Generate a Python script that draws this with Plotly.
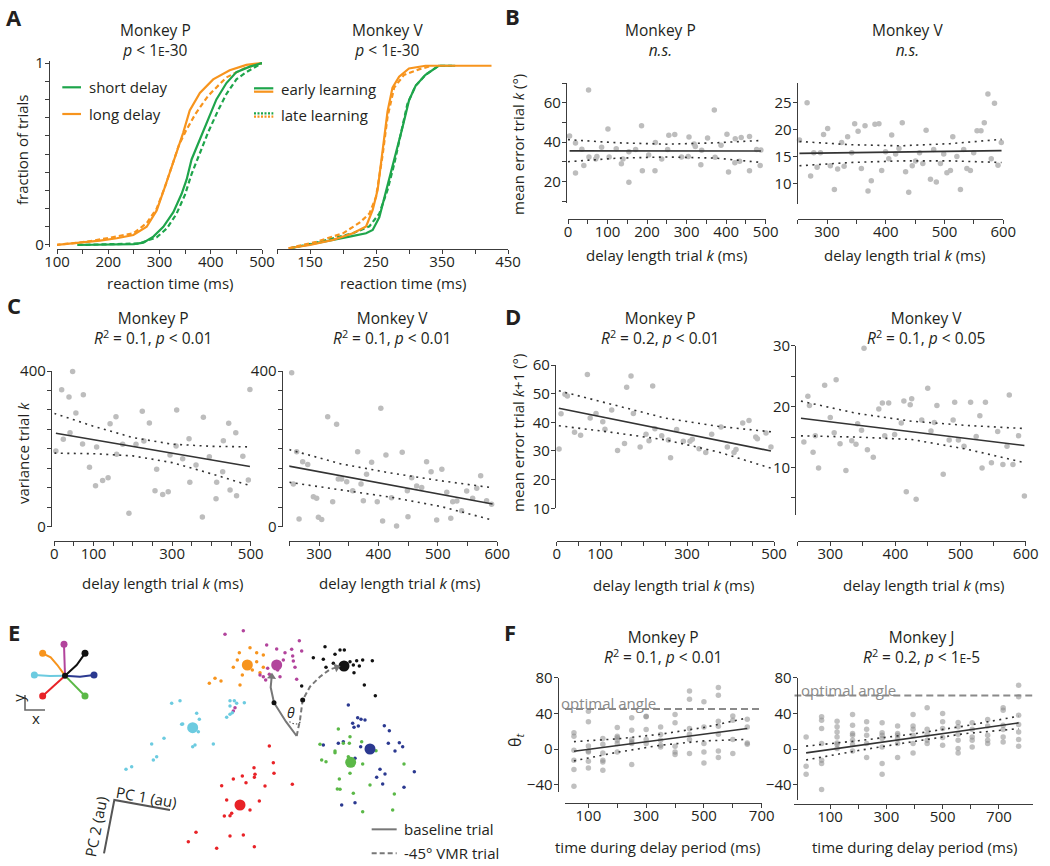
import plotly.graph_objects as go

W, H = 1050, 866
FONT = "Open Sans"
TXT = "#231f20"
AX = "#3c3c3c"
GREEN = "#1ea54b"
ORANGE = "#f7941d"
PT = "#bdbdbd"
FPT = "rgba(140,140,140,0.55)"
FIT = "#333333"

# ---------------- Panel A: cumulative RT distributions ----------------
a_p_short_early_rt = [140, 250, 268.6, 288, 307.5, 327, 343, 353, 362.6, 378.8, 395, 411, 430.6, 450, 476, 500]
a_p_short_early_f = [0, 0.005, 0.013, 0.046, 0.1, 0.18, 0.28, 0.36, 0.47, 0.58, 0.69, 0.80, 0.89, 0.95, 0.98, 1.0]
a_p_short_late_rt = [140, 260, 294.5, 314, 333, 349.6, 362.6, 378.8, 395, 414.4, 430.6, 450, 469.5, 500]
a_p_short_late_f = [0, 0.008, 0.042, 0.09, 0.17, 0.275, 0.39, 0.51, 0.62, 0.74, 0.83, 0.91, 0.95, 1.0]
a_p_long_early_rt = [97, 139, 184, 216.7, 249, 275, 294.5, 310.7, 323.7, 336.6, 346, 359, 378.8, 404.7, 437, 469.5, 500]
a_p_long_early_f = [0, 0.01, 0.024, 0.037, 0.055, 0.1, 0.19, 0.32, 0.43, 0.54, 0.615, 0.74, 0.835, 0.91, 0.96, 0.99, 1.0]
a_p_long_late_rt = [97, 158, 197, 249, 275, 294.5, 310.7, 327, 338, 352, 370, 395, 430, 465, 500]
a_p_long_late_f = [0, 0.018, 0.037, 0.064, 0.12, 0.2, 0.32, 0.45, 0.55, 0.63, 0.72, 0.82, 0.92, 0.97, 1.0]

a_v_short_early_rt = [120, 160, 210, 235, 245, 255, 267.5, 277.5, 290, 300, 310, 325, 345, 370]
a_v_short_early_f = [0, 0.027, 0.064, 0.082, 0.1, 0.17, 0.34, 0.48, 0.66, 0.81, 0.89, 0.95, 1.0, 1.0]
a_v_short_late_rt = [120, 165, 215, 240, 255, 267.5, 277.5, 287.5, 297.5, 310, 325, 345, 365]
a_v_short_late_f = [0, 0.036, 0.082, 0.12, 0.19, 0.32, 0.46, 0.63, 0.79, 0.89, 0.95, 1.0, 1.0]
a_v_long_early_rt = [117.5, 150, 185, 215, 235, 245, 252.5, 260, 267.5, 275, 285, 300, 325, 425]
a_v_long_early_f = [0, 0.018, 0.046, 0.082, 0.12, 0.21, 0.32, 0.52, 0.75, 0.88, 0.94, 0.985, 1.0, 1.0]
a_v_long_late_rt = [117.5, 160, 200, 225, 240, 250, 260, 267.5, 277.5, 292.5, 315, 335]
a_v_long_late_f = [0, 0.036, 0.082, 0.14, 0.19, 0.28, 0.51, 0.72, 0.88, 0.95, 0.98, 1.0]

# ---------------- Panel B: mean error trial k vs delay ----------------
b_p_pts = [(4, 43), (19, 24.2), (19, 39.5), (35, 36.3), (40, 28), (52, 66.4), (53, 32.4), (70, 31.4),
           (73, 32.7), (85, 37.3), (101, 46.6), (104, 32.4), (122, 36.6), (135, 29), (139, 31.4),
           (154, 19.5), (154, 35), (171, 36.2), (186, 48.3), (188, 25.4), (204, 33.4), (220, 25.4),
           (221, 39.7), (237, 31.4), (252, 36.2), (255, 43.5), (270, 43.8), (287, 32.4), (304, 32.6),
           (306, 42.6), (319, 39), (322, 37.7), (336, 28.5), (338, 35.8), (353, 42), (370, 56.3),
           (372, 32.2), (387, 38.3), (402, 44), (406, 24.7), (422, 29.4), (423, 41.6), (434, 30.2),
           (438, 42.3), (459, 42.8), (459, 25.4), (477, 36.2), (486, 28), (488, 35.9)]
b_p_fit_x = [4, 488]
b_p_fit_y = [35.5, 35.4]
b_p_ci_x = [0, 125, 250, 375, 490]
b_p_ci_hi = [41.2, 39.6, 38.9, 39.6, 40.8]
b_p_ci_lo = [30.0, 31.8, 32.4, 31.8, 29.6]

b_v_pts = [(253, 18.1), (266, 25), (272, 11.4), (277.4, 15.7), (283, 13), (288.7, 15.7), (294, 19.1),
           (301, 20.2), (305.6, 13.3), (312.4, 8.9), (318, 12.7), (324.8, 17.6), (329, 13.2), (335, 18.7),
           (342, 15.7), (347, 21.1), (352.8, 19.7), (358.4, 12.8), (364.6, 20.7), (369.7, 8.6),
           (375.3, 10.5), (381.5, 21), (388.3, 21.1), (393, 12.4), (399.6, 15.9), (405, 14.6),
           (410, 19), (416.7, 15.5), (422.4, 16.5), (428, 21.3), (433.7, 12.2), (439, 8.4),
           (445, 13.3), (450.6, 14.2), (457.4, 15.7), (463, 13.7), (468.6, 19.9), (476, 10.8),
           (481.5, 16.3), (486, 10.3), (493, 13.7), (498.6, 15.5), (504, 12), (510, 12.4),
           (514, 18.7), (521, 15), (527, 8.9), (532.6, 16.3), (538, 12.8), (544, 12.4), (549.6, 15.7),
           (555.3, 19.8), (562, 19.8), (567.6, 21.3), (573.8, 26.6), (579.5, 14.6), (585, 24.9),
           (591, 13.4), (596.6, 17.6)]
b_v_fit_x = [253, 597]
b_v_fit_y = [15.6, 16.1]
b_v_ci_x = [253, 340, 425, 510, 597]
b_v_ci_hi = [17.8, 17.2, 17.0, 17.4, 18.2]
b_v_ci_lo = [13.3, 13.9, 14.2, 14.2, 13.9]

# ---------------- Panel C: variance trial k vs delay ----------------
c_p_pts = [(4, 194.4), (18.7, 352), (22.9, 224.4), (37.4, 333.3), (40, 241.5), (46.7, 399), (55, 292),
           (72, 212.4), (73.9, 339), (89.6, 152.5), (107.8, 204.5), (105, 105), (123, 118.6), (137, 126),
           (142, 264.7), (157, 282.6), (158.7, 185.9), (174, 211.6), (190, 34.3), (208, 211.6),
           (224, 296.4), (228, 220), (242, 266.6), (260.6, 147.4), (256.4, 92.5), (276, 83), (290, 90),
           (294.6, 184), (311.6, 299.7), (310, 207.3), (326.8, 174.8), (343, 226), (345, 114),
           (360.8, 158.5), (376.9, 24.8), (379.5, 281), (394.7, 180), (411.7, 72), (413.4, 114),
           (428.7, 141.3), (430.4, 221), (444, 265.5), (447.5, 94.2), (462, 241.5), (464, 79.7),
           (480, 181), (494, 120), (498, 352.6)]
c_p_fit_x = [4, 498]
c_p_fit_y = [239.9, 154.6]
c_p_ci_x = [0, 100, 200, 300, 400, 500]
c_p_ci_hi = [291, 258, 229, 212, 206.5, 205]
c_p_ci_lo = [189, 187.5, 182, 164.6, 136, 105]

c_v_pts = [(248.4, 156.7), (254, 395.7), (256.8, 109.6), (262.4, 192.7), (266.4, 19.7), (272.5, 167),
           (281, 160), (290.5, 77), (296, 72.8), (299, 24), (304.5, 18.8), (314.6, 282.6), (323, 64.3),
           (329.6, 263), (332.4, 122.5), (338, 122.5), (346.6, 115.6), (356.7, 92.5), (365, 192.7),
           (370.7, 109.6), (374.6, 66.8), (380, 134.5), (388.5, 165.3), (398, 64.3), (404, 304),
           (407, 14.6), (412.6, 184), (422, 74.5), (430.5, 1.7), (440, 191), (448.6, 92.5),
           (449.7, 25.7), (456, 126), (464.3, 104.5), (472.8, 101), (481, 167), (479.4, -25.7),
           (488.6, 141.3), (498, 17), (506.7, 147.3), (515, 88.4), (521.7, 21.4), (525, 64.3),
           (532, 66), (540, 41), (548.5, 91.6), (554.2, -14.6), (558.5, 72.8), (565.4, 98.5),
           (572, 131), (582, 66.8), (590.4, 57.4)]
c_v_fit_x = [248, 592]
c_v_fit_y = [156, 58.2]
c_v_ci_x = [250, 335, 420, 505, 592]
c_v_ci_hi = [198, 162, 138, 118, 100]
c_v_ci_lo = [114, 95, 76, 52, 17]

# ---------------- Panel D: mean error trial k+1 vs delay ----------------
d_p_pts = [(5.4, 30.7), (10, 43), (19, 49.8), (24.5, 49.2), (41, 36.5), (55, 35.5), (70.6, 56.7),
           (77, 41.5), (90.5, 43.1), (106, 40.2), (111, 37.6), (126.5, 44.3), (140, 30.2), (156, 32.6),
           (161, 52.2), (171, 56.2), (176.4, 43.1), (192, 31.4), (205.5, 35.8), (212.4, 33.6),
           (220.9, 52.7), (226, 37.8), (241.6, 35.3), (257, 33.8), (262, 27.6), (276, 37.5),
           (291.4, 33.4), (306.7, 33.4), (312, 34.1), (327.6, 30.8), (343, 29.5), (356.6, 35.8),
           (378, 38.4), (392.6, 31.4), (408, 29.5), (412.6, 30.5), (428, 39.8), (442.5, 40.6),
           (458, 34.9), (461.8, 34.3), (481.6, 36.3), (493, 31.4)]
d_p_fit_x = [5, 493]
d_p_fit_y = [44.9, 30.0]
d_p_ci_x = [5, 127, 249, 371, 493]
d_p_ci_hi = [51.0, 46.3, 41.5, 38.6, 36.7]
d_p_ci_lo = [38.8, 36.5, 33.9, 29.7, 24.0]

d_v_pts = [(259.5, 14.2), (265.6, 21.7), (268, 20.2), (273.6, 12.5), (277, 15.2), (282, 9.9),
           (291.4, 23.5), (300, 18.2), (306, 15.7), (309, 24.4), (315, 13.9), (324, 9.5), (333, 14.4),
           (339.5, 13.8), (342, 17.2), (348, 16.1), (351.8, 29.6), (357, 12.9), (366, 11.7),
           (374.5, 19.6), (380, 20.6), (383.6, 15.2), (389.7, 20.6), (398.8, 15.4), (409, 17.3),
           (413, 20.9), (416.7, 6), (422.7, 20.3), (425, 21.3), (431.8, 4.8), (440.4, 17.8),
           (449.6, 23), (454.6, 16), (459.7, 17.4), (463.7, 20.2), (473.4, 8.9), (482.5, 14.5),
           (488.6, 17.8), (491, 20.7), (496.7, 14.5), (505.3, 13.5), (515.4, 20.7), (524, 15.1),
           (529.6, 18.5), (533, 9.9), (538.2, 20.7), (547.4, 10.8), (557, 15.9), (562, 0.1),
           (565, 10.5), (571.3, 13.5), (574.8, 21.9), (580.4, 10.5), (589, 15.2), (598, 5.3)]
d_v_fit_x = [255, 598]
d_v_fit_y = [18.1, 13.6]
d_v_ci_x = [255, 340, 425, 510, 598]
d_v_ci_hi = [20.9, 18.9, 17.6, 16.9, 16.4]
d_v_ci_lo = [15.2, 15.0, 14.6, 13.0, 10.8]

# ---------------- Panel F: theta_t vs time ----------------
f_p_times = [50, 100, 150, 200, 250, 300, 350, 400, 450, 500, 550, 600, 650]
f_p_vals = [[18.3, 14.6, -1.1, -12.3, -22.8, -41.4],
            [42.5, 30.6, 3.7, -1.9, -3, -13.4, -20.9],
            [12, 5.6, -4.1, -12.3, -14.2, -23.5],
            [24.3, 14.6, 12.7, 10, 6.3, -3],
            [35.1, 21.3, 10.8, 8.2, 6.3, -17.2],
            [37, 36.3, 22.1, 10.8, 6.3],
            [25, 16.4, 10, 4.5, 2.6],
            [38.8, 29.5, 3.4, -3, -6],
            [65, 56, 23.1, 16.8, 10.8, -4.9],
            [81, 53, 25, 6.3, -3, -15.3],
            [69, 60.4, 31.3, 25.7, 16.8, -1.9, -9.3],
            [37.3, 32.4, 10.8, -4.9],
            [33.6, 25, 7.1, 5.6]]
f_p_fit_x = [50, 650]
f_p_fit_y = [-2.2, 23.1]
f_p_ci_x = [50, 200, 350, 500, 650]
f_p_ci_hi = [8.5, 11.6, 16.8, 24.3, 35]
f_p_ci_lo = [-13, -3.4, 4.5, 9.3, 11]
f_p_optimal = 45

f_j_times = [15, 70, 125, 180, 230, 285, 340, 395, 445, 500, 555, 605, 660, 715, 770]
f_j_vals = [[13.8, -19, -28, -57],
            [36.2, 32.5, 23.1, 6.3, -12.3, -16, -45],
            [31.3, 25, 19.4, 13.8, 7, 5.2, 0.7],
            [38.8, 26.9, 17.5, 15.7, 10, 5.2, -1.9],
            [30.6, 22.4, 15.7, 6.3, -9.3],
            [29.5, 18.3, 15.7, 12, 2.6, -16, -28],
            [26.1, 17.5, 15.7, 12, 6.3, -9.3],
            [38.8, 26.1, 22.4, 15.7, 6.3, -4.1],
            [46.3, 22.4, 16.4, 10, 6.3],
            [40, 30.6, 23.1, 13, 4.5],
            [29.9, 25, 16.8, 10, 0.7, -4.1],
            [29.5, 22.4, 13.8, 10, 2.6],
            [33.2, 26.1, 15.7, 10, 6.3],
            [46.3, 43.7, 26.9, 22, 13.8, 8.2],
            [71.6, 58.6, 38.1, 27.6, 19.4, 10.8, 3.4]]
f_j_fit_x = [15, 770]
f_j_fit_y = [-4.1, 29.5]
f_j_ci_x = [15, 200, 395, 580, 770]
f_j_ci_hi = [3.5, 9.5, 17, 26, 37]
f_j_ci_lo = [-12, -1.5, 8.5, 17.5, 23]
f_j_optimal = 60

# ---------------- Panel E: PC-space schematic (arbitrary units) ----------------
e_clusters = {
    "#f7941d": {"center": (742, 255),
                "pts": [(718, 218), (750, 203), (770, 218), (790, 225), (700, 262), (712, 240), (770, 245),
                        (790, 262), (727, 285), (780, 278), (645, 295), (663, 303), (628, 310), (720, 315),
                        (757, 270)]},
    "#b2449c": {"center": (830, 255),
                "pts": [(675, 163), (730, 152), (800, 195), (830, 207), (855, 218), (875, 208), (898, 182),
                        (905, 213), (878, 228), (880, 243), (885, 262), (890, 298), (808, 283), (797, 300),
                        (840, 290), (790, 290), (803, 265), (705, 383), (700, 393), (780, 285), (833, 270),
                        (850, 240)]},
    "#111111": {"center": (1032, 258),
                "pts": [(975, 200), (1005, 223), (1020, 210), (1033, 210), (940, 233), (970, 238), (1070, 242),
                        (1088, 240), (1117, 242), (1060, 255), (1078, 258), (1062, 278), (1093, 315),
                        (1126, 347), (905, 318), (978, 262), (1000, 250), (1050, 245)]},
    "#6ccbe0": {"center": (578, 443),
                "pts": [(515, 370), (540, 362), (690, 362), (703, 362), (733, 368), (690, 378), (697, 398),
                        (680, 412), (690, 403), (598, 418), (590, 400), (545, 433), (548, 432), (595, 455),
                        (585, 495), (578, 500), (640, 492), (492, 475), (455, 492), (470, 530), (460, 540),
                        (395, 560), (378, 568), (710, 370)]},
    "#2b3990": {"center": (1110, 507),
                "pts": [(1045, 375), (1073, 413), (1083, 418), (1095, 420), (1058, 430), (1062, 442),
                        (1075, 438), (1153, 437), (1168, 452), (1198, 488), (1208, 500), (1165, 490),
                        (1185, 513), (1015, 490), (1030, 485), (970, 495), (1065, 535), (1140, 568),
                        (1155, 582), (1130, 592), (1148, 612), (1243, 575), (1212, 622), (1025, 675),
                        (1065, 668), (1082, 500)]},
    "#5bb847": {"center": (1052, 547),
                "pts": [(1015, 447), (1050, 470), (1048, 490), (1085, 485), (1030, 490), (1005, 513),
                        (1005, 518), (960, 493), (965, 540), (978, 545), (1045, 530), (1088, 552),
                        (1050, 580), (1018, 597), (1012, 627), (1020, 628), (1060, 640), (1110, 615),
                        (1212, 552), (1183, 642), (1088, 695), (1178, 690), (1128, 512)]},
    "#e82227": {"center": (720, 675),
                "pts": [(808, 498), (762, 563), (820, 548), (727, 588), (765, 583), (763, 592), (822, 580),
                        (700, 597), (665, 617), (738, 608), (795, 618), (877, 613), (680, 660), (778, 663),
                        (750, 690), (695, 700), (690, 707), (673, 708), (588, 757), (565, 785), (690, 768),
                        (730, 765), (650, 805), (763, 800)]},
}
e_star = {  # reach trajectories inset
    "#b2449c": [(195, 287), (193, 240), (192, 193)],
    "#111111": [(195, 287), (230, 255), (255, 220)],
    "#f7941d": [(195, 287), (172, 255), (152, 232), (128, 220)],
    "#6ccbe0": [(195, 287), (150, 288), (103, 285)],
    "#2b3990": [(195, 287), (240, 290), (282, 285)],
    "#e82227": [(195, 287), (128, 348)],
    "#5bb847": [(195, 287), (255, 348)],
}
e_baseline = [(890, 468), (858, 425), (822, 368), (812, 322), (815, 290)]
e_vmr = [(890, 468), (900, 420), (908, 360), (930, 320), (960, 290), (990, 268), (1010, 262)]
e_pc_axes = [(312, 820), (343, 660), (510, 690)]
e_xy_axes = [(75, 345), (75, 390), (135, 390)]

fig = go.Figure()
layout = dict(template="none", width=W, height=H, margin=dict(l=0, r=0, t=0, b=0, pad=0, autoexpand=False),
              paper_bgcolor="white", plot_bgcolor="rgba(0,0,0,0)", showlegend=False,
              font=dict(family=FONT, size=15, color=TXT))


def axes(n, xr, xpx, yr, ypx, yline_x, xline_y, xt, yt, show_y=True):
    base = dict(showline=True, linecolor=AX, linewidth=1.3, ticks="outside", ticklen=4, tickwidth=1.3,
                tickcolor=AX, showgrid=False, zeroline=False, tickfont=dict(size=15, color=TXT),
                anchor="free", automargin=False)
    xa = dict(base, domain=[xpx[0] / W, xpx[1] / W], range=xr, position=1 - xline_y / H,
              ticklabelstandoff=-5)
    xa.update(xt)
    ya = dict(base, domain=[1 - ypx[0] / H, 1 - ypx[1] / H], range=yr, position=yline_x / W,
              ticklabelstandoff=-2)
    ya.update(yt)
    if not show_y:
        ya = dict(domain=ya["domain"], range=yr, anchor="free", position=yline_x / W, visible=False,
                  automargin=False)
    layout["xaxis" if n == 1 else f"xaxis{n}"] = xa
    layout["yaxis" if n == 1 else f"yaxis{n}"] = ya


def tk(vals, minor=None, text=None):
    d = dict(tickmode="array", tickvals=vals)
    if text is not None:
        d["ticktext"] = text
    if minor is not None:
        d["minor"] = dict(tickmode="array", tickvals=minor, ticks="outside", ticklen=4, tickwidth=1.3,
                          tickcolor=AX, showgrid=False)
    return d


def rng(a, b, s):
    out = []
    v = a
    while v <= b + 1e-9:
        out.append(round(v, 6))
        v += s
    return out


# A
axes(1, [100, 500], [57, 262], [-0.01, 1.01], [246.8, 61.2], 49, 249,
     tk([100, 200, 300, 400, 500], rng(100, 500, 50)), tk([0, 1], rng(0, 1, 0.1)))
axes(2, [100, 450], [277, 508], [-0.01, 1.01], [250.1, 63.9], 277, 249,
     tk([150, 250, 350, 450], rng(100, 450, 50)), tk([0, 1]), show_y=False)
# B
axes(3, [0, 500], [568, 765.7], [9, 70], [203, 83], 566, 219,
     tk([0, 100, 200, 300, 400, 500], rng(0, 500, 50)), tk([20, 40, 60], rng(10, 70, 10)))
axes(4, [250, 600], [797.7, 1003.3], [6.2, 28.6], [204, 83.3], 796.7, 219,
     tk([300, 400, 500, 600], rng(250, 600, 50)), tk([10, 15, 20, 25]))
# C
axes(5, [0, 500], [54.3, 250.7], [0, 400], [526.7, 371], 51, 540.7,
     tk([0, 100, 300, 500], rng(0, 500, 50)), tk([0, 400], rng(0, 400, 50)))
axes(6, [250, 600], [289.3, 497.3], [0, 400], [526.7, 371], 281.7, 540.7,
     tk([300, 400, 500, 600], rng(250, 600, 50)), tk([0, 400], rng(0, 400, 50)))
# D
axes(7, [0, 500], [556.7, 774], [10, 60], [508.3, 365], 555, 540.7,
     tk([0, 100, 300, 500], rng(0, 500, 50)), tk([10, 20, 30, 40, 50, 60]))
axes(8, [250, 600], [797.7, 1025.7], [2.2, 30], [515, 345.7], 795.3, 540.7,
     tk([300, 400, 500, 600], rng(250, 600, 50)), tk([10, 20, 30], rng(5, 30, 5)))
# F
axes(9, [19, 700], [565, 761.7], [-47.5, 80], [791.7, 677.7], 557.7, 802.7,
     tk([100, 300, 500, 700], rng(100, 700, 100)), tk([-40, 0, 40, 80]))
axes(10, [-27, 820], [794.3, 1032.7], [-56.8, 80], [800, 677.7], 796.7, 804,
     tk([100, 300, 500, 700], rng(100, 700, 100)), tk([-40, 0, 40, 80]))
# E (schematic, hidden axes)
layout["xaxis11"] = dict(domain=[0, 520 / W], range=[0, 1560], visible=False, anchor="y11", automargin=False)
layout["yaxis11"] = dict(domain=[0, 1 - 580 / H], range=[858, 0], visible=False, anchor="x11", automargin=False)


def line(n, x, y, color=FIT, width=1.5, dash=None):
    fig.add_trace(go.Scatter(x=x, y=y, mode="lines", xaxis=f"x{n}", yaxis=f"y{n}", hoverinfo="skip",
                             line=dict(color=color, width=width, dash=dash)))


def pts(n, pairs, color=PT, size=5.5):
    fig.add_trace(go.Scatter(x=[p[0] for p in pairs], y=[p[1] for p in pairs], mode="markers",
                             xaxis=f"x{n}", yaxis=f"y{n}", cliponaxis=False,
                             marker=dict(color=color, size=size, line=dict(width=0))))


DOT = "2px,4.5px"
DASH = "5px,3px"
# A traces
line(1, a_p_long_early_rt, a_p_long_early_f, ORANGE, 2.2)
line(1, a_p_long_late_rt, a_p_long_late_f, ORANGE, 2.2, DASH)
line(1, a_p_short_early_rt, a_p_short_early_f, GREEN, 2.2)
line(1, a_p_short_late_rt, a_p_short_late_f, GREEN, 2.2, DASH)
line(2, a_v_short_early_rt, a_v_short_early_f, GREEN, 2.2)
line(2, a_v_short_late_rt, a_v_short_late_f, GREEN, 2.2, DASH)
line(2, a_v_long_early_rt, a_v_long_early_f, ORANGE, 2.2)
line(2, a_v_long_late_rt, a_v_long_late_f, ORANGE, 2.2, DASH)

# regression panels
for n, p, fx, fy, cx, chi, clo in [
    (3, b_p_pts, b_p_fit_x, b_p_fit_y, b_p_ci_x, b_p_ci_hi, b_p_ci_lo),
    (4, b_v_pts, b_v_fit_x, b_v_fit_y, b_v_ci_x, b_v_ci_hi, b_v_ci_lo),
    (5, c_p_pts, c_p_fit_x, c_p_fit_y, c_p_ci_x, c_p_ci_hi, c_p_ci_lo),
    (6, c_v_pts, c_v_fit_x, c_v_fit_y, c_v_ci_x, c_v_ci_hi, c_v_ci_lo),
    (7, d_p_pts, d_p_fit_x, d_p_fit_y, d_p_ci_x, d_p_ci_hi, d_p_ci_lo),
    (8, d_v_pts, d_v_fit_x, d_v_fit_y, d_v_ci_x, d_v_ci_hi, d_v_ci_lo),
]:
    pts(n, p)
    line(n, fx, fy, FIT, 1.6)
    line(n, cx, chi, FIT, 1.6, DOT)
    line(n, cx, clo, FIT, 1.6, DOT)

for n, times, vals, fx, fy, cx, chi, clo, opt in [
    (9, f_p_times, f_p_vals, f_p_fit_x, f_p_fit_y, f_p_ci_x, f_p_ci_hi, f_p_ci_lo, f_p_optimal),
    (10, f_j_times, f_j_vals, f_j_fit_x, f_j_fit_y, f_j_ci_x, f_j_ci_hi, f_j_ci_lo, f_j_optimal),
]:
    xr = layout[f"xaxis{n}"]["range"]
    line(n, xr, [opt, opt], "#8a8a8a", 2, "7px,4px")
    pairs = [(t, v) for t, vs in zip(times, vals) for v in vs]
    pts(n, pairs, FPT, 5.5)
    line(n, fx, fy, FIT, 1.6)
    line(n, cx, chi, FIT, 1.6, DOT)
    line(n, cx, clo, FIT, 1.6, DOT)

# E traces
for col, path in e_star.items():
    line(11, [q[0] for q in path], [q[1] for q in path], col, 2)
    fig.add_trace(go.Scatter(x=[path[-1][0]], y=[path[-1][1]], mode="markers", xaxis="x11", yaxis="y11",
                             marker=dict(color=col, size=7), hoverinfo="skip"))
fig.add_trace(go.Scatter(x=[195], y=[287], mode="markers", xaxis="x11", yaxis="y11",
                         marker=dict(color="#111", size=6), hoverinfo="skip"))
line(11, [q[0] for q in e_xy_axes], [q[1] for q in e_xy_axes], "#666", 1.6)
for col, c in e_clusters.items():
    fig.add_trace(go.Scatter(x=[q[0] for q in c["pts"]], y=[q[1] for q in c["pts"]], mode="markers",
                             xaxis="x11", yaxis="y11", marker=dict(color=col, size=3.5), hoverinfo="skip"))
for col, c in e_clusters.items():
    fig.add_trace(go.Scatter(x=[c["center"][0]], y=[c["center"][1]], mode="markers",
                             xaxis="x11", yaxis="y11", marker=dict(color=col, size=11), hoverinfo="skip"))
line(11, [q[0] for q in e_baseline], [q[1] for q in e_baseline], "#777", 2)
line(11, [q[0] for q in e_vmr], [q[1] for q in e_vmr], "#777", 2, "5px,3px")
line(11, [868, 878, 890, 902], [425, 430, 432, 426], "#555", 1.2, "1.5px,2px")
fig.add_trace(go.Scatter(x=[e_baseline[2][0], e_vmr[2][0]], y=[e_baseline[2][1], e_vmr[2][1]],
                         mode="markers", xaxis="x11", yaxis="y11", marker=dict(color="#111", size=5)))
# arrow heads at the trajectory ends
fig.add_trace(go.Scatter(x=[e_baseline[-1][0], e_vmr[-1][0]], y=[e_baseline[-1][1], e_vmr[-1][1]],
                         mode="markers", xaxis="x11", yaxis="y11", hoverinfo="skip",
                         marker=dict(symbol="triangle-up", size=8, color="#777", angle=[5, 72])))
line(11, [q[0] for q in e_pc_axes], [q[1] for q in e_pc_axes], "#555", 2)
line(11, [1115, 1190], [748, 748], "#777", 2)
line(11, [1115, 1190], [820, 820], "#777", 2, "5px,3px")

annotations = []


def ann(x, y, text, size=15, angle=0, xanchor="center", color=TXT, family=FONT):
    annotations.append(dict(x=x / W, y=1 - y / H, xref="paper", yref="paper", text=text, showarrow=False,
                            font=dict(size=size, color=color, family=family), textangle=angle,
                            xanchor=xanchor, yanchor="middle"))


def eann(x, y, text, size=15, angle=0, xanchor="center", color=TXT):
    annotations.append(dict(x=x, y=y, xref="x11", yref="y11", text=text, showarrow=False,
                            font=dict(size=size, color=color, family=FONT), textangle=angle,
                            xanchor=xanchor, yanchor="middle"))


SC = "<span style='font-size:12px'>E</span>"
# panel letters
for x, y, t in [(14, 17, "A"), (512, 16, "B"), (14, 305, "C"), (513, 316, "D"), (14, 632, "E"), (510, 632, "F")]:
    ann(x, y, f"<b>{t}</b>", size=22)
# titles (two lines each)
R2 = "<i>R</i><sup>2</sup>"
titles = [
    (155, 39.5, "Monkey P", f"<i>p</i> < 1{SC}-30"),
    (387, 39.5, "Monkey V", f"<i>p</i> < 1{SC}-30"),
    (660, 40.5, "Monkey P", "<i>n.s.</i>"),
    (907, 40.5, "Monkey V", "<i>n.s.</i>"),
    (153, 327.5, "Monkey P", f"{R2} = 0.1, <i>p</i> < 0.01"),
    (392, 327.5, "Monkey V", f"{R2} = 0.1, <i>p</i> < 0.01"),
    (660, 327.5, "Monkey P", f"{R2} = 0.2, <i>p</i> < 0.01"),
    (926, 327.5, "Monkey V", f"{R2} = 0.1, <i>p</i> < 0.05"),
    (663, 646.5, "Monkey P", f"{R2} = 0.1, <i>p</i> < 0.01"),
    (922, 646.5, "Monkey J", f"{R2} = 0.2, <i>p</i> < 1{SC}-5"),
]
for x, y, t1, t2 in titles:
    ann(x, y, f"{t1}<br>{t2}", size=15.5)
# axis titles
ann(170, 283, "reaction time (ms)")
ann(403, 283, "reaction time (ms)")
ann(22, 150, "fraction of trials", angle=-90)
ann(667, 255, "delay length trial <i>k</i> (ms)")
ann(905, 255, "delay length trial <i>k</i> (ms)")
ann(518, 145, "mean error trial <i>k</i> (°)", angle=-90)
ann(163, 583, "delay length trial <i>k</i> (ms)")
ann(400, 583, "delay length trial <i>k</i> (ms)")
ann(23, 453, "variance trial <i>k</i>", angle=-90)
ann(674, 585, "delay length trial <i>k</i> (ms)")
ann(924, 585, "delay length trial <i>k</i> (ms)")
ann(518, 433, "mean error trial <i>k</i>+1 (°)", angle=-90)
ann(658, 847, "time during delay period (ms)")
ann(915, 847, "time during delay period (ms)")
ann(515, 740, "θ<sub><i>t</i></sub>", size=16, angle=-90)
# A legends
ann(86.7, 87, "short delay", xanchor="left")
ann(86.7, 114, "long delay", xanchor="left")
ann(279.3, 89, "early learning", xanchor="left")
ann(279.3, 115, "late learning", xanchor="left")
# optimal angle labels
for n, xv, yv in [(9, 170, 51.5), (10, 165, 66.5)]:
    annotations.append(dict(x=xv, y=yv, xref=f"x{n}", yref=f"y{n}", text="optimal angle", showarrow=False,
                            font=dict(size=15, color="#8a8a8a", family=FONT), xanchor="center",
                            yanchor="middle"))
# E labels
eann(873, 398, "<i>θ</i>", size=14)
eann(55, 352, "y", angle=-90)
eann(108, 415, "x")
eann(440, 650, "PC 1 (au)", angle=10)
eann(288, 742, "PC 2 (au)", angle=-79)
eann(1205, 748, "baseline trial", xanchor="left")
eann(1205, 820, "-45° VMR trial", xanchor="left")
layout["annotations"] = annotations

shapes = []


def pline(x0, x1, y, color, dash=None, width=2.2):
    shapes.append(dict(type="line", xref="paper", yref="paper", x0=x0 / W, x1=x1 / W, y0=1 - y / H,
                       y1=1 - y / H, line=dict(color=color, width=width, dash=dash)))


pline(62.3, 81, 87.3, GREEN)
pline(62.3, 81, 114, ORANGE)
pline(254, 273.3, 88.3, GREEN)
pline(254, 273.3, 91.7, ORANGE)
pline(254, 273.3, 113.3, GREEN, "2px,1.5px")
pline(254, 273.3, 116.7, ORANGE, "2px,1.5px")
layout["shapes"] = shapes

fig.update_layout(**layout)
fig.write_html("out.html", config={"displayModeBar": False},
               post_script="document.body.style.margin='0';document.body.style.overflow='hidden';")
